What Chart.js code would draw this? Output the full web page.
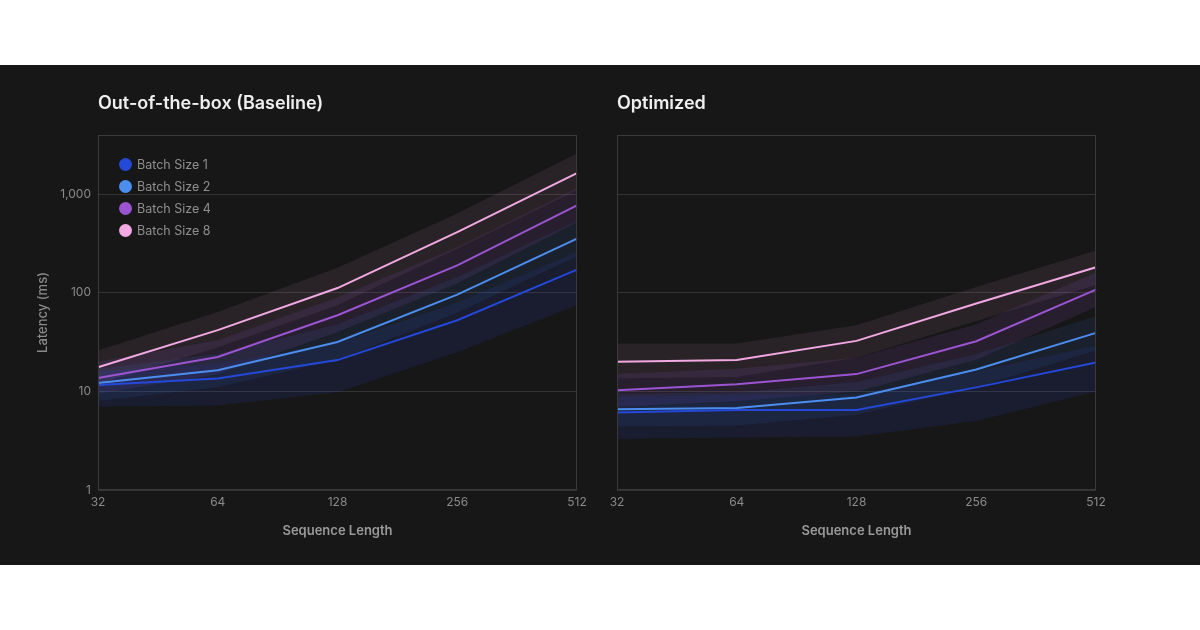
<!DOCTYPE html>
<html lang="en">
<head>
  <meta charset="UTF-8" />
  <title>Latency vs Sequence Length</title>
  <script src="https://cdn.jsdelivr.net/npm/chart.js"></script>
  <style>
    html, body { margin: 0; padding: 0; background: #fff; }
    body { width: 1200px; height: 630px; position: relative; overflow: hidden; font-family: Inter, "Noto Sans", sans-serif; }
    .panel { position: absolute; left: 0; top: 65px; width: 1200px; height: 500px; background: #171717; }
    .panel canvas { position: absolute; top: 0; }
    #left { left: 0; }
    #right { left: 600px; }
    .title { position: absolute; top: 26px; color: #efefef; font-size: 18px; font-weight: 600; line-height: 24px; }
    .legend { position: absolute; left: 119px; top: 89px; }
    .legend div { height: 22px; line-height: 22px; font-size: 12.5px; color: #8f8f8f; position: relative; padding-left: 18px; }
    .legend span { position: absolute; left: 0; top: 4px; width: 13px; height: 13px; border-radius: 50%; }
  </style>
</head>
<body>
  <div class="panel">
    <canvas id="left" width="600" height="500"></canvas>
    <canvas id="right" width="600" height="500"></canvas>
    <div class="title" style="left:98px">Out-of-the-box (Baseline)</div>
    <div class="title" style="left:617px">Optimized</div>
    <div class="legend" id="legend"></div>
  </div>

  <script>
    // données
    const seqLengths = ['32', '64', '128', '256', '512'];
    const yTicks = [1, 10, 100, 1000];
    const seriesNames = ['Batch Size 1', 'Batch Size 2', 'Batch Size 4', 'Batch Size 8'];
    const lineColors = ['#2448d8', '#4b8ef0', '#9c55d2', '#f2a9e2'];
    const bandColors = ['rgba(40,70,210,0.13)', 'rgba(70,130,235,0.10)', 'rgba(160,85,210,0.12)', 'rgba(235,165,220,0.09)'];

    // Baseline
    const baseB1 = [11.6, 13.5, 20.8, 52.8, 172];
    const baseB2 = [12.2, 16.4, 31.8, 96, 355];
    const baseB4 = [13.7, 22.4, 59.3, 190, 772];
    const baseB8 = [17.6, 41.9, 112, 414, 1640];
    const baseB1Hi = [16, 19, 31, 80, 260];
    const baseB1Lo = [7.0, 7.2, 9.8, 25, 75];
    const baseB2Hi = [17, 24, 48, 145, 540];
    const baseB2Lo = [8, 11, 21, 63, 235];
    const baseB4Hi = [20, 33, 90, 290, 1150];
    const baseB4Lo = [9.5, 15, 40, 125, 520];
    const baseB8Hi = [26, 64, 180, 640, 2600];
    const baseB8Lo = [12, 28, 75, 280, 1100];

    // Optimized
    const optB1 = [6.1, 6.5, 6.5, 11, 19.7];
    const optB2 = [6.6, 6.8, 8.7, 16.7, 39.3];
    const optB4 = [10.3, 11.8, 15, 32.3, 108];
    const optB8 = [20, 20.8, 32.6, 78, 182];
    const optB1Hi = [8.8, 9.3, 9.3, 16, 29];
    const optB1Lo = [3.3, 3.4, 3.5, 5, 10];
    const optB2Hi = [9.5, 9.8, 12.5, 24, 58];
    const optB2Lo = [4.4, 4.5, 5.8, 11, 26];
    const optB4Hi = [15, 17, 22, 48, 160];
    const optB4Lo = [7, 8, 10, 21, 72];
    const optB8Hi = [30.6, 30.6, 47, 115, 270];
    const optB8Lo = [13.5, 14, 22, 52, 120];

    // légende HTML
    document.getElementById('legend').innerHTML = seriesNames
      .map((n, i) => `<div><span style="background:${lineColors[i]}"></span>${n}</div>`).join('');

    // cadre autour de la zone du graphique
    const boxPlugin = {
      id: 'box',
      afterDraw(chart) {
        const { ctx, chartArea: a } = chart;
        ctx.save();
        ctx.strokeStyle = '#3a3a3a';
        ctx.lineWidth = 1;
        ctx.strokeRect(Math.round(a.left) + 0.5, Math.round(a.top) + 0.5, Math.round(a.right - a.left) - 1, Math.round(a.bottom - a.top) - 1);
        ctx.restore();
      }
    };

    function buildDatasets(lines, bands) {
      const ds = lines.map((data, i) => ({
        data: data,
        borderColor: lineColors[i],
        borderWidth: 2,
        pointRadius: 0,
        fill: false,
        tension: 0,
        order: 0
      }));
      bands.forEach(([hi, lo], i) => {
        const hiIndex = ds.length;
        ds.push({ data: hi, borderWidth: 0, pointRadius: 0, fill: false, order: 1 });
        ds.push({ data: lo, borderWidth: 0, pointRadius: 0, backgroundColor: bandColors[i], fill: hiIndex, order: 1 });
      });
      return ds;
    }

    function makeChart(id, lines, bands, showY, pad) {
      const ctx = document.getElementById(id).getContext('2d');
      return new Chart(ctx, {
        type: 'line',
        data: { labels: seqLengths, datasets: buildDatasets(lines, bands) },
        options: {
          responsive: false,
          animation: false,
          layout: { padding: pad },
          plugins: { legend: { display: false }, tooltip: { enabled: false } },
          scales: {
            x: {
              offset: false,
              grid: { display: false, drawTicks: false },
              border: { display: false },
              ticks: { color: '#8a8a8a', font: { family: 'Inter', size: 12 }, padding: 5, autoSkip: false, maxRotation: 0 },
              title: { display: true, text: 'Sequence Length', color: '#9a9a9a', font: { family: 'Inter', size: 13, weight: '600' }, padding: { top: 4, bottom: 0 } },
              afterFit: (s) => { s.height = 49; }
            },
            y: {
              type: 'logarithmic',
              min: 1,
              max: 4000,
              grid: { color: '#333333', drawTicks: false },
              border: { display: false },
              afterBuildTicks: (s) => { s.ticks = yTicks.map(v => ({ value: v })); },
              ticks: {
                display: showY,
                color: '#8a8a8a',
                font: { family: 'Inter', size: 12 },
                padding: 7,
                callback: (v) => Number(v).toLocaleString('en-US')
              },
              title: { display: showY, text: 'Latency (ms)', color: '#8a8a8a', font: { family: 'Inter', size: 13, weight: '500' }, padding: { top: 0, bottom: 0 } },
              afterFit: (s) => { s.width = showY ? 63 : 0; }
            }
          }
        },
        plugins: [boxPlugin]
      });
    }

    makeChart('left',
      [baseB1, baseB2, baseB4, baseB8],
      [[baseB1Hi, baseB1Lo], [baseB2Hi, baseB2Lo], [baseB4Hi, baseB4Lo], [baseB8Hi, baseB8Lo]],
      true, { top: 70, right: 23, bottom: 26, left: 35 });

    makeChart('right',
      [optB1, optB2, optB4, optB8],
      [[optB1Hi, optB1Lo], [optB2Hi, optB2Lo], [optB4Hi, optB4Lo], [optB8Hi, optB8Lo]],
      false, { top: 70, right: 104, bottom: 26, left: 17 });
  </script>
</body>
</html>
